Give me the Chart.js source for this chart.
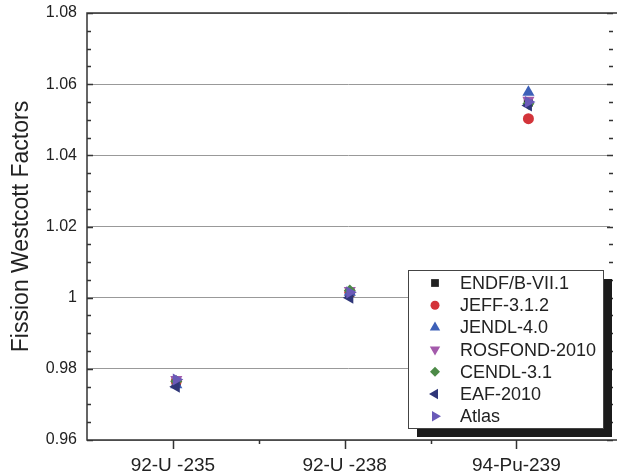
<!DOCTYPE html>
<html>
<head>
<meta charset="utf-8">
<script src="https://cdn.jsdelivr.net/npm/chart.js@4.4.0/dist/chart.umd.min.js"></script>
<style>
  html, body { margin: 0; padding: 0; background: #fff; }
</style>
</head>
<body>
<canvas id="westcott" width="617" height="474"></canvas>
<script>
// data
const isotopes = ['92-U -235', '92-U -238', '94-Pu-239'];
const isotopeX = [1.02, 2.03, 3.07];
const libraries = ['ENDF/B-VII.1', 'JEFF-3.1.2', 'JENDL-4.0', 'ROSFOND-2010', 'CENDL-3.1', 'EAF-2010', 'Atlas'];
const endf    = [0.9765, 1.0015, 1.0550];
const jeff    = [0.9765, 1.0015, 1.0503];
const jendl   = [0.9755, 1.0015, 1.0577];
const rosfond = [0.9770, 1.0020, 1.0555];
const cendl   = [0.9765, 1.0020, 1.0545];
const eaf     = [0.9750, 1.0000, 1.0540];
const atlas   = [0.9770, 1.0015, 1.0550];
const yTicks  = [0.96, 0.98, 1.00, 1.02, 1.04, 1.06, 1.08];

const seriesValues = [endf, jeff, jendl, rosfond, cendl, eaf, atlas];
const colors   = ['#222222', '#d3343a', '#3d60b8', '#a35aab', '#4c8a47', '#2f3678', '#6a5ab8'];
const shapes   = ['rect', 'circle', 'triangle', 'triangle', 'rectRot', 'triangle', 'triangle'];
const rotation = [0, 0, 0, 180, 0, -90, 90];
const radius   = [6.5, 5.5, 7, 7, 6, 7, 7];

const FONT = "'Liberation Sans', Arial, sans-serif";

const datasets = libraries.map((name, i) => ({
  label: name,
  data: seriesValues[i].map((v, k) => ({ x: isotopeX[k], y: v })),
  pointStyle: shapes[i],
  rotation: rotation[i],
  pointRadius: radius[i],
  pointHoverRadius: radius[i],
  backgroundColor: colors[i],
  borderColor: colors[i],
  borderWidth: 0,
  showLine: false,
  order: libraries.length - i
}));

// axis frame, inward/outward minor ticks
const frame = {
  id: 'frame',
  afterDatasetsDraw(chart) {
    const { ctx, chartArea: a, scales: { x, y } } = chart;
    ctx.save();
    ctx.strokeStyle = '#333';
    ctx.lineWidth = 1.5;
    ctx.beginPath();
    ctx.moveTo(617, a.top); ctx.lineTo(a.left, a.top);
    ctx.lineTo(a.left, a.bottom); ctx.lineTo(617, a.bottom);
    for (let i = 0; i <= 24; i++) {
      const py = Math.round(y.getPixelForValue(0.96 + i * 0.005)) + 0.5;
      const len = i % 4 === 0 ? 6 : 4;
      ctx.moveTo(a.left, py); ctx.lineTo(a.left + len, py);
      ctx.moveTo(a.right + 3, py); ctx.lineTo(a.right + 3 - len, py);
    }
    [1, 2, 3].forEach(v => {
      const px = Math.round(x.getPixelForValue(v)) + 0.5;
      ctx.moveTo(px, a.bottom); ctx.lineTo(px, a.bottom + 9);
    });
    [1.5, 2.5].forEach(v => {
      const px = Math.round(x.getPixelForValue(v)) + 0.5;
      ctx.moveTo(px, a.bottom); ctx.lineTo(px, a.bottom + 4);
    });
    ctx.stroke();
    ctx.restore();
  }
};

// boxed legend with drop shadow
const boxLegend = {
  id: 'boxLegend',
  afterDraw(chart) {
    const { ctx } = chart;
    const bx = 408, by = 270, bw = 195, bh = 158;
    ctx.save();
    ctx.fillStyle = '#1b1b1b';
    ctx.fillRect(bx + 9, by + 9, bw, bh);
    ctx.fillStyle = '#fff';
    ctx.fillRect(bx, by, bw, bh);
    ctx.strokeStyle = '#444';
    ctx.lineWidth = 1;
    ctx.strokeRect(bx + 0.5, by + 0.5, bw, bh);
    ctx.font = '18px ' + FONT;
    ctx.textBaseline = 'middle';
    chart.data.datasets.forEach((ds, i) => {
      const ry = by + 13 + i * 22.2;
      ctx.fillStyle = colors[i];
      ctx.strokeStyle = colors[i];
      Chart.helpers.drawPoint(ctx, {
        pointStyle: shapes[i], rotation: rotation[i],
        radius: radius[i] - 1, borderWidth: 0
      }, bx + 27, ry);
      ctx.fillStyle = '#222';
      ctx.fillText(ds.label, bx + 52, ry + 1);
    });
    ctx.restore();
  }
};

function noOverflow(scale) {
  scale.paddingTop = 0; scale.paddingBottom = 0;
  scale.paddingLeft = 0; scale.paddingRight = 0;
}

new Chart(document.getElementById('westcott'), {
  type: 'scatter',
  data: { datasets },
  options: {
    responsive: false,
    devicePixelRatio: 1,
    animation: false,
    layout: { padding: { top: 13, right: 1, left: 0, bottom: 0 } },
    plugins: { legend: { display: false }, tooltip: { enabled: false } },
    scales: {
      x: {
        type: 'linear',
        min: 0.5,
        max: 3.545,
        afterFit(scale) { scale.height = 34; noOverflow(scale); },
        afterBuildTicks(scale) { scale.ticks = isotopes.map((_, k) => ({ value: k + 1 })); },
        grid: { display: false, drawTicks: false },
        border: { display: false },
        ticks: {
          autoSkip: false,
          maxRotation: 0,
          padding: 14,
          color: '#222',
          font: { family: FONT, size: 19 },
          callback: v => isotopes[Math.round(v) - 1]
        }
      },
      y: {
        min: 0.96,
        max: 1.08,
        afterFit(scale) { scale.width = 87; noOverflow(scale); },
        afterBuildTicks(scale) { scale.ticks = yTicks.map(v => ({ value: v })); },
        grid: { color: '#999', lineWidth: 1, drawTicks: false },
        border: { display: false },
        ticks: {
          padding: 10,
          color: '#222',
          font: { family: FONT, size: 16 },
          callback: v => String(+v.toFixed(2))
        },
        title: {
          display: true,
          text: 'Fission Westcott Factors',
          color: '#222',
          font: { family: FONT, size: 23 },
          padding: { top: 8, bottom: 0 }
        }
      }
    }
  },
  plugins: [frame, boxLegend]
});
</script>
</body>
</html>
